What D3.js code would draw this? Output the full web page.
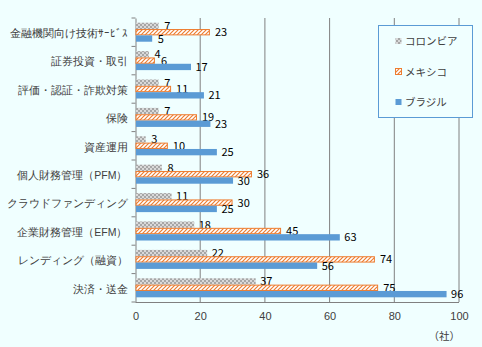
<!DOCTYPE html>
<html><head><meta charset="utf-8">
<script src="https://cdn.jsdelivr.net/npm/d3@7"></script>
<style>
body{margin:0;background:#F0FFFF;}
svg{display:block;font-family:"Noto Sans CJK JP","Noto Sans",sans-serif;}
</style></head><body>
<svg id="c" width="482" height="347"></svg>
<script>
const categories = ["金融機関向け技術ｻｰﾋﾞｽ","証券投資・取引","評価・認証・詐欺対策","保険","資産運用","個人財務管理（PFM）","クラウドファンディング","企業財務管理（EFM）","レンディング（融資）","決済・送金"];
const seriesNames = ["コロンビア","メキシコ","ブラジル"];
const colombia = [7,4,7,7,3,8,11,18,22,37];
const mexico = [23,6,11,19,10,36,30,45,74,75];
const brazil = [5,17,21,23,25,30,25,63,56,96];
const xTicks = [0,20,40,60,80,100];

const svg = d3.select("#c");
const W=482,H=347;
svg.append("rect").attr("width",W).attr("height",H).attr("fill","#F0FFFF");
const defs = svg.append("defs");
const pg = defs.append("pattern").attr("id","pGrey").attr("patternUnits","userSpaceOnUse").attr("width",4).attr("height",4);
pg.append("rect").attr("width",4).attr("height",4).attr("fill","#d9d9d9");
pg.append("rect").attr("x",0).attr("y",0).attr("width",2).attr("height",2).attr("fill","#a6a6a6");
pg.append("rect").attr("x",2).attr("y",2).attr("width",2).attr("height",2).attr("fill","#a6a6a6");
const po = defs.append("pattern").attr("id","pOrange").attr("patternUnits","userSpaceOnUse").attr("width",4).attr("height",4);
po.append("rect").attr("width",4).attr("height",4).attr("fill","#ffffff");
po.append("path").attr("d","M-1,5 L5,-1 M-1,1 L1,-1 M3,5 L5,3").attr("stroke","#ED7D31").attr("stroke-width",1.2);

const x = d3.scaleLinear().domain([0,100]).range([135.5,459]);
const y = d3.scaleBand().domain(categories).range([18,302]).paddingInner(0.33).paddingOuter(0.165);
const ys = d3.scaleBand().domain(seriesNames).range([0,y.bandwidth()]);

svg.append("g").selectAll("line").data(xTicks.slice(1)).join("line")
  .attr("x1",d=>x(d)).attr("x2",d=>x(d)).attr("y1",18).attr("y2",302)
  .attr("stroke","#808080").attr("stroke-width",1);

const yAxis = d3.axisLeft(y).tickSize(0).tickFormat(d=>d);
const gy = svg.append("g").attr("transform",`translate(${x(0)},0)`).call(yAxis);
gy.select(".domain").attr("stroke","#808080");
gy.selectAll("text").attr("font-size",10.5).attr("fill","#404040").attr("x",-8).attr("dy","0.45em");
const seps = d3.range(categories.length+1).map(i=>18+i*(284/categories.length));
svg.append("g").selectAll("line").data(seps).join("line")
  .attr("x1",x(0)-4).attr("x2",x(0)).attr("y1",d=>d).attr("y2",d=>d).attr("stroke","#808080");

const xAxis = d3.axisBottom(x).tickValues(xTicks).tickSize(0).tickPadding(10);
const gx = svg.append("g").attr("transform","translate(0,302)").call(xAxis);
gx.select(".domain").remove();
gx.selectAll("text").attr("font-size",11).attr("fill","#404040");
svg.append("line").attr("x1",x(0)).attr("x2",x(100)).attr("y1",302.5).attr("y2",302.5).attr("stroke","#808080");

const fills = {"コロンビア":"url(#pGrey)","メキシコ":"url(#pOrange)","ブラジル":"#5B9BD5"};
const strokes = {"コロンビア":"none","メキシコ":"#ED7D31","ブラジル":"none"};
const seriesData = [colombia,mexico,brazil];
seriesNames.forEach((s,si)=>{
  const g = svg.append("g");
  const data = categories.map((c,i)=>({c,v:seriesData[si][i]}));
  g.selectAll("rect").data(data).join("rect")
    .attr("x",x(0)+0.5)
    .attr("y",d=>y(d.c)+ys(s)+(si===1?0.5:0))
    .attr("width",d=>x(d.v)-x(0)-(si===1?1:0))
    .attr("height",ys.bandwidth()-(si===1?1:0))
    .attr("fill",fills[s]).attr("stroke",strokes[s]).attr("stroke-width",1);
  g.selectAll("text").data(data).join("text")
    .attr("x",d=>x(d.v)+(d.v<10?6:5))
    .attr("y",d=>y(d.c)+ys(s)+ys.bandwidth()/2+4)
    .attr("font-size",11).attr("fill","#000")
    .text(d=>d.v);
});

const lg = svg.append("g");
lg.append("rect").attr("x",378.5).attr("y",25.5).attr("width",94).attr("height",92)
  .attr("fill","#F0FFFF").attr("stroke","#5B9BD5").attr("stroke-width",1);
seriesNames.forEach((s,i)=>{
  const yy = 41 + i*30.5;
  lg.append("rect").attr("x",395.5).attr("y",yy-3).attr("width",6).attr("height",6)
    .attr("fill",fills[s]).attr("stroke",strokes[s]);
  lg.append("text").attr("x",405).attr("y",yy+4).attr("font-size",10.5).attr("fill","#404040").text(s);
});

svg.append("text").attr("x",460).attr("y",340).attr("text-anchor","end").attr("font-size",10.5).attr("fill","#404040").text("（社）");
</script></body></html>
